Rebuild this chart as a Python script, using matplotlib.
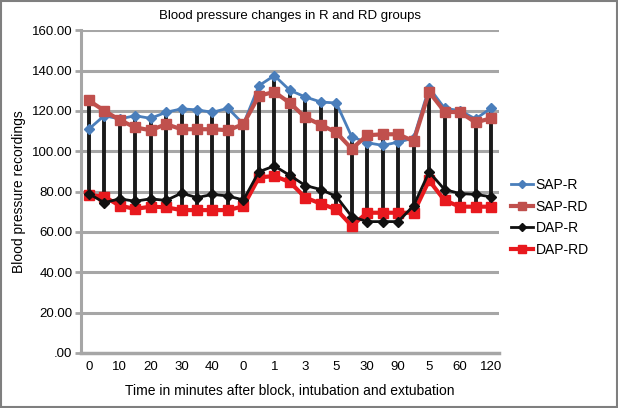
import numpy as np
import matplotlib
matplotlib.use('Agg')
import matplotlib.pyplot as plt
from matplotlib.patches import Rectangle

plt.rcParams['font.family'] = ['Liberation Sans', 'DejaVu Sans']

# categories (only every other one is labelled on the axis)
cats = ['0', '5', '10', '15', '20', '25', '30', '35', '40', '45',
        '0', '0.5', '1', '2', '3', '4', '5', '10', '30', '60', '90', '120',
        '5', '30', '60', '90', '120']

sap_r = [110.9, 117.6, 116, 117.6, 116.3, 119.3, 121, 120.5, 119.3, 121.3, 113.5,
         132.5, 137.5, 130.2, 126.9, 124.4, 123.9, 107.2, 104.2, 102.9, 104.5, 106.5,
         131.5, 121.3, 120.1, 116, 121.3]
sap_rd = [125.2, 120.1, 115.5, 111.8, 110.4, 113.4, 110.9, 110.9, 110.9, 110.4, 113.4,
          127.5, 129.4, 123.9, 116.8, 113.1, 109.3, 101.2, 107.9, 108.4, 108.4, 105,
          129.4, 119.6, 119.3, 114.3, 116.3]
dap_r = [79, 74.5, 76.4, 75.2, 76.4, 75.6, 79.2, 77, 78.6, 77.8, 75.8,
         89.8, 92.7, 88, 83, 81, 77.6, 67.6, 65.1, 65.1, 65.1, 73,
         89.7, 81, 79, 78.6, 77.4]
dap_rd = [78.3, 77.5, 73, 71.4, 72.5, 72.2, 70.8, 70.8, 70.8, 70.8, 72.7,
          87, 87.7, 84.7, 77, 74, 71.2, 63, 69.5, 69.5, 69.5, 69.5,
          85.5, 75.6, 72.5, 72.5, 72.5]

x = np.arange(len(cats))
allv = np.array([sap_r, sap_rd, dap_r, dap_rd])

fig = plt.figure(figsize=(6.18, 4.08), dpi=100)
ax = fig.add_axes([0.131, 0.135, 0.676, 0.791])

grid_c = '#a6a6a6'
for v in range(20, 161, 20):
    ax.axhline(v, color=grid_c, lw=2.2, zorder=0)

# high-low lines
ax.vlines(x, allv.min(axis=0), allv.max(axis=0), color='#1a1a1a', lw=2.8, zorder=2)

ax.plot(x, sap_r, color='#4a7ebb', lw=2, marker='D', ms=5, label='SAP-R', zorder=3)
ax.plot(x, sap_rd, color='#c0504d', lw=3, marker='s', ms=7, label='SAP-RD', zorder=3)
ax.plot(x, dap_r, color='#111111', lw=2, marker='D', ms=5, label='DAP-R', zorder=4)
ax.plot(x, dap_rd, color='#e8191e', lw=3, marker='s', ms=7, label='DAP-RD', zorder=3)

ax.set_xlim(-0.5, len(cats) - 0.5)
ax.set_ylim(0, 160)
ax.set_yticks(range(0, 161, 20))
ax.set_yticklabels(['.00'] + ['%.2f' % v for v in range(20, 161, 20)], fontsize=9.5)
ax.set_xticks(x[::2])
ax.set_xticklabels(cats[::2], fontsize=9.5)
ax.tick_params(axis='x', length=0, pad=6)
ax.tick_params(axis='y', length=4, width=2, color=grid_c, pad=2)

for s in ['top', 'right']:
    ax.spines[s].set_visible(False)
ax.spines['left'].set_color(grid_c)
ax.spines['left'].set_linewidth(2.2)
ax.spines['bottom'].set_color(grid_c)
ax.spines['bottom'].set_linewidth(2.5)

ax.set_title('Blood pressure changes in R and RD groups', fontsize=9.5, pad=8)
ax.set_ylabel('Blood pressure recordings', fontsize=10, labelpad=4)
ax.set_xlabel('Time in minutes after block, intubation and extubation', fontsize=10, labelpad=8)

ax.legend(loc='center left', bbox_to_anchor=(1.0, 0.42), frameon=False, fontsize=10,
          handlelength=1.6, handletextpad=0.15, labelspacing=0.55, markerscale=0.8)

fig.patches.append(Rectangle((0.002, 0.003), 0.996, 0.994, transform=fig.transFigure,
                             fill=False, edgecolor='#7f7f7f', lw=1.5))

fig.savefig('out.png', dpi=100)
